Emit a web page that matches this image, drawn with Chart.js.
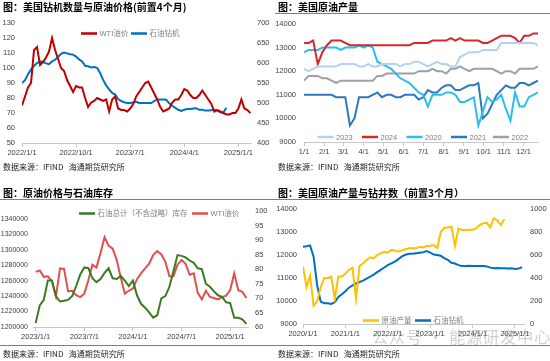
<!DOCTYPE html>
<html>
<head>
<meta charset="utf-8">
<script src="https://cdn.jsdelivr.net/npm/chart.js@4.4.1/dist/chart.umd.min.js"></script>
<style>
html, body { margin: 0; padding: 0; background: #fff; }
body { width: 550px; height: 361px; position: relative; overflow: hidden; font-family: "Noto Sans CJK SC", "Liberation Sans", sans-serif; }
.box { position: absolute; width: 275px; height: 181px; }
.box canvas { position: absolute; left: 0; top: 0; }
.title { position: absolute; left: 3px; font-size: 10px; font-weight: bold; line-height: 14px; white-space: nowrap; color: #000; }
.src { position: absolute; left: 3px; font-size: 8px; line-height: 11px; color: #222; white-space: nowrap; }
.rule { position: absolute; left: 0; width: 275px; height: 1px; background: #4a8bd0; }
.mark { position: absolute; left: 372px; top: 326px; font-size: 16px; line-height: 20px; letter-spacing: 1px; color: rgba(120,120,120,0.35); white-space: nowrap; }
</style>
</head>
<body>
<div class="box" style="left:0;top:0">
  <canvas id="c1" width="275" height="180"></canvas>
  <div class="title" style="top:0">图：美国钻机数量与原油价格(前置4个月)</div>
  <div class="src" style="top:161px">数据来源：IFIND&nbsp;&nbsp;&nbsp;海通期货研究所</div>
</div>
<div class="box" style="left:275px;top:0">
  <canvas id="c2" width="275" height="180"></canvas>
  <div class="title" style="top:0">图：美国原油产量</div>
  <div class="rule" style="top:13px"></div>
  <div class="src" style="top:161px">数据来源：IFIND&nbsp;&nbsp;&nbsp;海通期货研究所</div>
</div>
<div class="box" style="left:0;top:180px">
  <canvas id="c3" width="275" height="180"></canvas>
  <div class="title" style="top:6px">图：原油价格与石油库存</div>
  <div class="rule" style="top:19px"></div>
  <div class="rule" style="top:165px"></div>
  <div class="src" style="top:168px">数据来源：IFIND&nbsp;&nbsp;&nbsp;海通期货研究所</div>
</div>
<div class="box" style="left:275px;top:180px">
  <canvas id="c4" width="275" height="180"></canvas>
  <div class="title" style="top:6px">图：美国原油产量与钻井数（前置3个月）</div>
  <div class="rule" style="top:19px"></div>
  <div class="rule" style="top:165px"></div>
  <div class="src" style="top:168px">数据来源：IFIND&nbsp;&nbsp;&nbsp;海通期货研究所</div>
</div>
<div class="mark">公众号 · 能源研发中心</div>

<script>
// ---- chart 1: rigs vs WTI (half-month steps from 2022/1/1)
const wti1 = [75,81,87,90,112,114,102,104,107,111,120,112,106,100,98,92,88,84,88,87,
  87,80,74,77,78,80,79,78,79,71,79,81,73,72,72,71,73,76,81,84,
  87,90,91,87,83,79,74,71,72,73,77,79,79,82,86,85,82,80,80,82,
  85,82,79,76,71,72,71,70,69,69,70,70,73,79,73,72,70];
const rigs1 = [550,557,572,584,593,600,604,603,599,597,604,608,615,623,626,624,622,621,616,609,
  604,593,592,589,590,588,575,558,544,534,525,521,510,505,502,500,500,501,503,500,
  500,500,500,500,505,509,509,509,508,499,493,488,483,480,483,485,485,486,487,483,
  483,481,481,482,483,481,477,476,488];
const ticks1 = ['2022/1/1', '2022/10/1', '2023/7/1', '2024/4/1', '2025/1/1'];

// ---- chart 2: weekly US crude output by year
const monthTicks2 = ['1/1','2/1','3/1','4/1','5/1','6/1','7/1','8/1','9/1','10/1','11/1','12/1'];
const monthDays2 = [0,31,60,91,121,152,182,213,244,274,305,335];
const out2023 = [12100,12000,12100,12200,12200,12200,12200,12200,12300,12300,12300,12300,12200,12200,12300,12200,12200,12300,12300,12300,
  12300,12200,12300,12300,12400,12400,12300,12200,12300,12400,12300,12300,12200,12200,12600,12700,12800,12800,12800,12900,
  12900,12900,12900,13200,13200,13200,13200,13200,13200,13200,13200,13100];
const out2024 = [13200,13200,13300,12300,12800,13100,13300,13300,13300,13200,13100,13100,13100,13100,13100,13100,13100,13100,13100,13100,
  13100,13100,13100,13100,13200,13200,13200,13200,13300,13300,13300,13300,13400,13300,13400,13300,13300,13300,13300,13200,
  13200,13300,13400,13500,13500,13500,13400,13200,13500,13500,13600,13600];
const out2020 = [12800,12900,12900,12900,13000,13000,13000,13000,12900,13000,13000,13000,13100,13000,13100,13000,12400,12300,12200,12100,
  11900,11700,11600,11500,11300,11100,11000,10500,11000,11000,11000,11100,11100,11000,10700,10700,10800,10900,9700,10300,
  10900,10700,10800,11000,10400,9900,11100,10500,10500,10900,11000,11100];
const out2021 = [11000,11000,11000,11000,11000,11000,11000,10900,10900,10900,9700,10000,10900,10900,10900,11000,11100,10900,11000,11000,
  10900,10900,11000,11000,11000,10800,10900,11200,11100,11100,11300,11400,11400,11200,11200,11300,11400,11400,11500,10000,
  10200,10600,11000,11200,11400,11300,11300,11500,11500,11400,11500,11600];
const out2022 = [11600,11800,11800,11800,11700,11700,11600,11500,11600,11600,11600,11600,11600,11600,11600,11600,11800,11800,11900,11900,
  11900,11900,11900,11900,11900,12000,12000,12000,12100,12000,12000,11900,12100,12100,12200,12100,12000,12100,12100,12100,
  12100,12100,12000,11900,12000,12000,11900,12100,12100,12100,12100,12200];

// ---- chart 3: WTI vs commercial crude stocks (half-month steps from 2023/1/1)
const stocks3 = [1205000,1228000,1235000,1260000,1260000,1240000,1233000,1234000,1235000,1240000,
  1253000,1268000,1277000,1276000,1263000,1258000,1262000,1270000,1276000,1263000,
  1262000,1266000,1260000,1253000,1260000,1241000,1230000,1225000,1219000,1212000,
  1215000,1237000,1240000,1252000,1272000,1293000,1292000,1290000,1286000,1283000,
  1276000,1275000,1256000,1252000,1246000,1241000,1239000,1232000,1231000,1212000,
  1212000,1210000,1204000];
const wti3 = [79,79.5,77.3,77.5,75.8,70.5,80.2,80,72.3,72.5,71,70.3,71.5,76.1,81.5,80.5,85.5,91,88,87,
  83.1,77,71.5,72.5,73.3,76.5,78.5,80.2,81.8,84.8,86.2,85,82.5,77.5,77.5,81.5,83.1,81.8,78,78.5,
  71.8,69.5,72.5,70.4,70,69.5,70.3,70.8,72.7,78.5,72.7,72.1,70];
const ticks3 = ['2023/1/1', '2023/7/1', '2024/1/1', '2024/7/1', '2025/1/1'];

// ---- chart 4: output vs rigs (monthly from 2020/1/1)
const prod4 = [11500,10600,11100,9800,10000,10600,11000,10990,11060,10100,11060,11060,11200,11350,11450,10100,11520,11640,11780,11900,
  11860,12000,12070,12140,12100,12220,12190,12150,12200,12250,12290,12290,12290,12360,12330,12390,12400,12430,12300,13000,
  13190,13200,13230,12400,13160,13090,13090,13100,13100,13160,13300,13380,13400,13200,13600,13500,13300,13550];
const rigs4 = [672,676,684,585,337,195,181,180,174,190,236,258,285,316,336,352,365,377,395,411,
  430,451,471,491,511,527,542,564,588,602,610,610,616,620,624,634,620,604,600,593,
  573,557,533,526,512,504,505,506,505,504,505,505,501,490,485,487,485,485,483,484,
  478,482,493];
const ticks4 = ['2020/1/1', '2021/1/1', '2022/1/1', '2023/1/1', '2024/1/1', '2025/1/1'];

const FONT = '"Liberation Sans", "Noto Sans CJK SC", sans-serif';
const TICK_COLOR = '#404040';

function mon(s) {
    const p = s.split('/').map(Number);
    return (p[0] - 2000) * 12 + p[1] - 1 + (p[2] - 1) / 30;
}
function pts(x0, step, vals) {
    return vals.map((v, i) => ({ x: x0 + i * step, y: v }));
}

// legend drawn inside the plot, like the source charts
const insideLegend = {
    id: 'insideLegend',
    afterDraw(chart, args, opts) {
        const ctx = chart.ctx;
        ctx.save();
        ctx.font = '7.5px ' + FONT;
        ctx.textBaseline = 'middle';
        ctx.textAlign = 'left';
        chart.data.datasets.forEach((ds, i) => {
            const x = opts.xs[i];
            ctx.strokeStyle = ds.borderColor;
            ctx.lineWidth = 2.5;
            ctx.beginPath();
            ctx.moveTo(x, opts.y);
            ctx.lineTo(x + 16, opts.y);
            ctx.stroke();
            ctx.fillStyle = '#808080';
            ctx.fillText(ds.label, x + 18.5, opts.y + 0.5);
        });
        ctx.restore();
    }
};

function xAxis(min, max, vals, labels, h) {
    return {
        type: 'linear', min: min, max: max, bounds: 'data',
        afterBuildTicks: s => { s.ticks = vals.map(v => ({ value: v })); },
        afterFit: s => { s.height = h; },
        ticks: { autoSkip: false, maxRotation: 0, padding: 1, color: TICK_COLOR,
                 font: { size: 7.5, family: FONT }, callback: (v, i) => labels[i] },
        grid: { drawOnChartArea: false, drawTicks: true, tickLength: 4, color: '#c8c8c8' },
        border: { display: true, color: '#c8c8c8' }
    };
}

function yAxis(pos, min, max, step, w, pad, size) {
    return {
        type: 'linear', position: pos, min: min, max: max, bounds: 'data',
        afterFit: s => { s.width = w; },
        afterBuildTicks: s => {
            const t = [];
            for (let k = 0; min + k * step <= max + 1e-9; k++) t.push({ value: min + k * step });
            s.ticks = t;
        },
        ticks: { padding: pad, color: TICK_COLOR, autoSkip: false,
                 font: { size: size || 7.5, family: FONT }, callback: v => String(Math.round(v)) },
        grid: { display: false, drawTicks: false },
        border: { display: false }
    };
}

function line(label, color, data, axis) {
    return { label: label, data: data, borderColor: color, backgroundColor: color,
             borderWidth: 2, pointRadius: 0, tension: 0, fill: false, yAxisID: axis };
}

function makeChart(id, datasets, scales, padding, legend) {
    return new Chart(document.getElementById(id), {
        type: 'line',
        data: { datasets: datasets },
        options: {
            responsive: false,
            animation: false,
            layout: { padding: padding },
            scales: scales,
            plugins: { legend: { display: false }, tooltip: { enabled: false }, insideLegend: legend }
        },
        plugins: [insideLegend]
    });
}

// chart 1
const m1 = mon('2022/1/1');
makeChart('c1', [
    line('WTI油价', '#c00000', pts(m1, 0.5, wti1), 'y'),
    line('石油钻机', '#0070c0', pts(m1, 0.5, rigs1), 'y1')
], {
    x: xAxis(m1, m1 + 38.1, ticks1.map(mon), ticks1, 37),
    y: yAxis('left', 50, 130, 10, 22, 7),
    y1: yAxis('right', 400, 700, 50, 24, 6)
}, { top: 23, left: 0, right: 0, bottom: 0 }, { y: 33.5, xs: [81, 131] });

// chart 2
makeChart('c2', [
    line('2023', '#b4d2ee', pts(0, 7, out2023), 'y'),
    line('2024', '#d22a2a', pts(0, 7, out2024), 'y'),
    line('2020', '#2bbcf0', pts(0, 7, out2020), 'y'),
    line('2021', '#2e78c0', pts(0, 7, out2021), 'y'),
    line('2022', '#a0a0a0', pts(0, 7, out2022), 'y')
], {
    x: xAxis(0, 357, monthDays2, monthTicks2, 38),
    y: yAxis('left', 9000, 14000, 1000, 29, 8)
}, { top: 24, left: 0, right: 12, bottom: 0 }, { y: 137, xs: [42.5, 87, 131.5, 176, 218] });

// chart 3 (left axis tops out at 1350000, labels every 20000 up to 1340000)
const m3 = mon('2023/1/1');
const c3 = makeChart('c3', [
    line('石油总计（不含战略）库存', '#3c7a22', pts(m3, 0.5, stocks3), 'y'),
    line('WTI油价', '#e05050', pts(m3, 0.5, wti3), 'y1')
], {
    x: xAxis(m3 - 0.27, m3 + 26.2, ticks3.map(mon), ticks3, 33),
    y: yAxis('left', 1200000, 1350000, 20000, 33.5, 5.5, 7),
    y1: yAxis('right', 60, 100, 5, 27, 7)
}, { top: 31, left: 0, right: 0, bottom: 0 }, { y: 33.5, xs: [79, 192] });

// chart 4
const m4 = mon('2020/1/1');
makeChart('c4', [
    line('原油产量', '#ffc000', pts(m4, 1, prod4), 'y'),
    line('石油钻机', '#0070c0', pts(m4, 1, rigs4), 'y1')
], {
    x: xAxis(m4, m4 + 62.55, ticks4.map(mon), ticks4, 36),
    y: yAxis('left', 9000, 14000, 1000, 28, 6),
    y1: yAxis('right', 0, 1000, 200, 26, 6)
}, { top: 29, left: 0, right: 0, bottom: 0 }, { y: 140.5, xs: [88, 140] });
</script>
</body>
</html>
